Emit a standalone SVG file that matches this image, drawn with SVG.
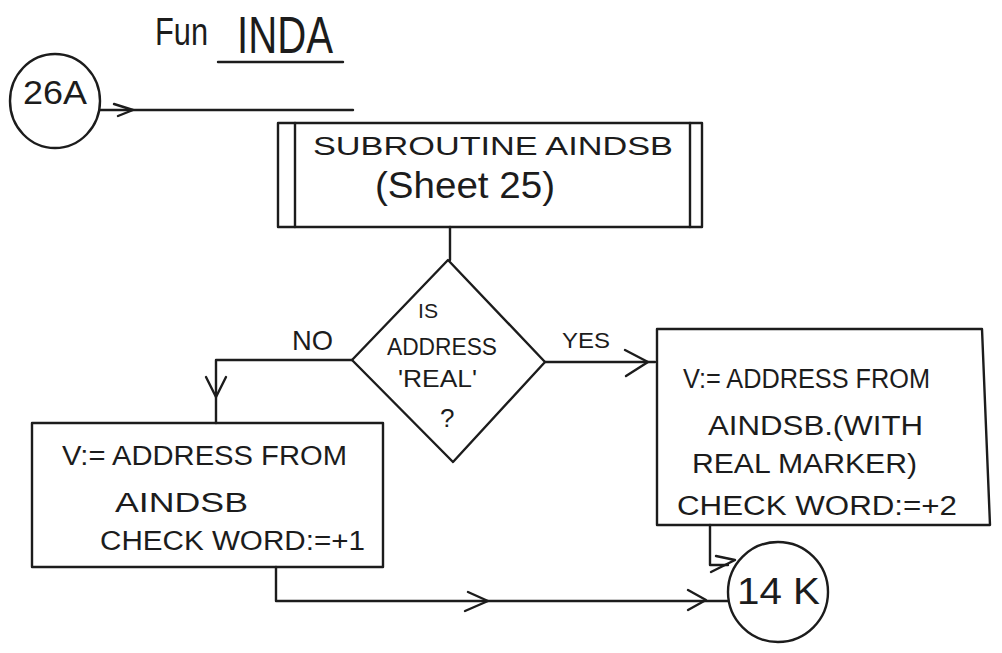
<svg xmlns="http://www.w3.org/2000/svg" width="1002" height="653" viewBox="0 0 1002 653">
<style>
.ln{fill:none;stroke:#1c1c1c;stroke-width:2.4;stroke-linecap:round;stroke-linejoin:round}
.ar{fill:none;stroke:#1c1c1c;stroke-width:2.4;stroke-linecap:round;stroke-linejoin:round}
.t{font-family:"Liberation Sans","DejaVu Sans",sans-serif;fill:#1c1c1c}
.s{font-size:27px}
</style>
<rect width="1002" height="653" fill="#ffffff"/>
<g id="title">
<text class="t" x="155" y="45" font-size="38" textLength="53" lengthAdjust="spacingAndGlyphs">Fun</text>
<text class="t" x="237" y="53" font-size="52" textLength="96" lengthAdjust="spacingAndGlyphs">INDA</text>
<path class="ln" d="M218,62 H343"/>
</g>
<g id="c26A">
<ellipse class="ln" cx="55" cy="101" rx="45" ry="47"/>
<text class="t" x="23" y="104" font-size="34" textLength="64" lengthAdjust="spacingAndGlyphs">26A</text>
</g>
<g id="sub">
<rect class="ln" x="278" y="123" width="424" height="104"/>
<path class="ln" d="M295,123 V227 M690,123 V227"/>
<text class="t" x="313" y="155" font-size="25" textLength="360" lengthAdjust="spacingAndGlyphs">SUBROUTINE AINDSB</text>
<text class="t" x="375" y="198" font-size="36" textLength="180" lengthAdjust="spacingAndGlyphs">(Sheet 25)</text>
</g>
<g id="decision">
<path class="ln" d="M448,260 L545,362 L453,462 L352,360 Z"/>
<text class="t" x="418" y="318" font-size="21" textLength="20" lengthAdjust="spacingAndGlyphs">IS</text>
<text class="t" x="387" y="355" font-size="23" textLength="110" lengthAdjust="spacingAndGlyphs">ADDRESS</text>
<text class="t" x="398" y="387" font-size="23" textLength="79" lengthAdjust="spacingAndGlyphs">'REAL'</text>
<text class="t" x="440" y="427" font-size="26">?</text>
</g>
<g id="boxNo">
<rect class="ln" x="32" y="423" width="351" height="144"/>
<text class="t s" x="62" y="465" textLength="285" lengthAdjust="spacingAndGlyphs">V:= ADDRESS FROM</text>
<text class="t s" x="115" y="512" textLength="133" lengthAdjust="spacingAndGlyphs">AINDSB</text>
<text class="t s" x="100" y="550" textLength="265" lengthAdjust="spacingAndGlyphs">CHECK WORD:=+1</text>
</g>
<g id="boxYes">
<path class="ln" d="M657,329 H982 L990,525 H657 Z"/>
<text class="t s" x="683" y="388" textLength="247" lengthAdjust="spacingAndGlyphs">V:= ADDRESS FROM</text>
<text class="t s" x="708" y="435" textLength="215" lengthAdjust="spacingAndGlyphs">AINDSB.(WITH</text>
<text class="t s" x="692" y="473" textLength="225" lengthAdjust="spacingAndGlyphs">REAL MARKER)</text>
<text class="t s" x="677" y="515" textLength="280" lengthAdjust="spacingAndGlyphs">CHECK WORD:=+2</text>
</g>
<g id="c14K">
<ellipse class="ln" cx="778" cy="592" rx="50" ry="50"/>
<text class="t" x="737" y="604" font-size="36" textLength="83" lengthAdjust="spacingAndGlyphs">14 K</text>
</g>
<g id="labels">
<text class="t" x="292" y="350" font-size="28" textLength="41" lengthAdjust="spacingAndGlyphs">NO</text>
<text class="t" x="562" y="348" font-size="22" textLength="48" lengthAdjust="spacingAndGlyphs">YES</text>
</g>
<g id="connectors">
<path class="ln" d="M100,110 H353"/>
<path class="ar" d="M114,104 L133,110 L118,116"/>
<path class="ln" d="M450,227 V260"/>
<path class="ln" d="M352,360 H216 V423"/>
<path class="ar" d="M206,377 L216,397 L226,377"/>
<path class="ln" d="M545,362 H655"/>
<path class="ar" d="M625,350 L648,362 L626,376"/>
<path class="ln" d="M276,567 V601 H728"/>
<path class="ar" d="M468,592 L488,601 L465,611"/>
<path class="ar" d="M688,590 L706,600 L688,610"/>
<path class="ln" d="M710,525 V565 H728"/>
<path class="ar" d="M716,556 L735,560 L711,572"/>
</g>
</svg>
